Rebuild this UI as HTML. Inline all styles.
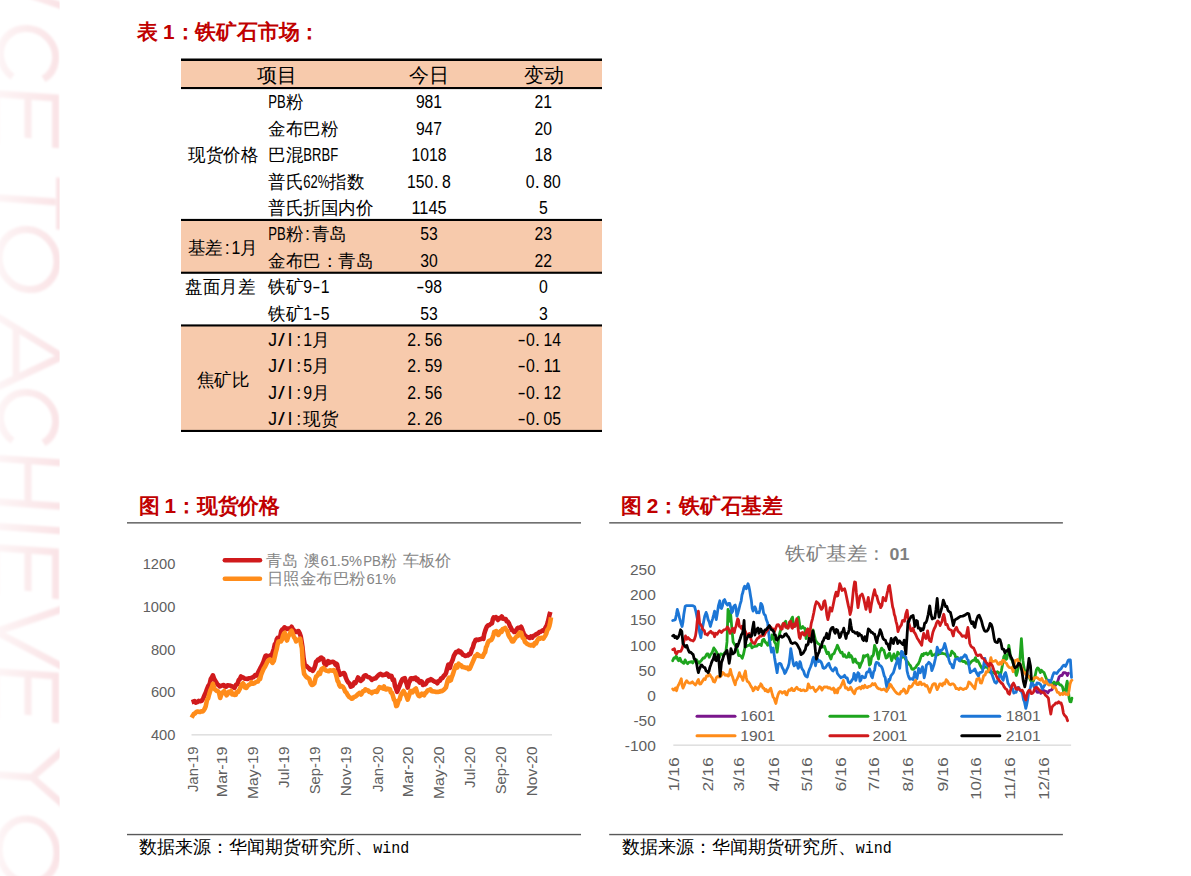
<!DOCTYPE html>
<html lang="zh"><head><meta charset="utf-8"><title>铁矿石市场</title>
<style>html,body{margin:0;padding:0;background:#fff;overflow:hidden}svg{display:block;font-family:'Liberation Sans',sans-serif}</style></head><body>
<svg width="1191" height="876" viewBox="0 0 1191 876">
<rect width="1191" height="876" fill="#fff"/>
<defs><filter id="wmb" x="-5%" y="-5%" width="110%" height="110%"><feGaussianBlur stdDeviation="0.9"/></filter><linearGradient id="wmg" gradientUnits="userSpaceOnUse" x1="0" y1="0" x2="60" y2="0"><stop offset="0" stop-color="#fdf4f5"/><stop offset="0.55" stop-color="#fbeaec"/><stop offset="1" stop-color="#fae3e6"/></linearGradient><clipPath id="wmc"><rect x="0" y="0" width="59.6" height="876"/></clipPath></defs><g clip-path="url(#wmc)"><path transform="matrix(1 0.07 0 1 0 -1.96)" d="M-4 -14L64 4M43.5 77.9A27.6 27 0 1 0 12.5 77.9M55.6 146V96H-4V146M28 96V138M59.6 175.5V227.5M55.6 200H-4M57 259.5a29 30 0 1 0 -58 0a29 30 0 1 0 58 0M-4 318L62 354L-4 390M16 329V379M43.5 441.9A27.6 27 0 1 0 12.5 441.9M64 460.5H-4M64 504H-4M28 460.5V504M64 528.5H-4M55.6 597V550H-4V597M28 550V591M64 606L-4 634L64 665M55.6 721V674H-4V721M28 674V715M64 747L32 777L64 803M32 777H-4M57 851a29 32 0 1 0 -58 0a29 32 0 1 0 58 0" fill="none" stroke="url(#wmg)" filter="url(#wmb)" stroke-width="7" stroke-linejoin="miter"/></g>
<text y="38.7" font-size="20.8" font-weight="bold" fill="#c00000"><tspan x="137.0" textLength="20.8" lengthAdjust="spacingAndGlyphs">表</tspan><tspan x="157.8"> </tspan><tspan x="163.0">1</tspan><tspan x="174.5" textLength="145.6" lengthAdjust="spacingAndGlyphs">：铁矿石市场：</tspan></text>
<text y="512.9" font-size="20.8" font-weight="bold" fill="#c00000"><tspan x="138.6" textLength="20.8" lengthAdjust="spacingAndGlyphs">图</tspan><tspan x="159.4"> </tspan><tspan x="164.6">1</tspan><tspan x="176.1" textLength="104.0" lengthAdjust="spacingAndGlyphs">：现货价格</tspan></text>
<text y="512.9" font-size="20.8" font-weight="bold" fill="#c00000"><tspan x="620.8" textLength="20.8" lengthAdjust="spacingAndGlyphs">图</tspan><tspan x="641.6"> </tspan><tspan x="646.8">2</tspan><tspan x="658.3" textLength="124.8" lengthAdjust="spacingAndGlyphs">：铁矿石基差</tspan></text>
<rect x="181" y="59.5" width="421" height="28.5" fill="#f7caac"/>
<rect x="181" y="220" width="421" height="52.5" fill="#f7caac"/>
<rect x="181" y="325.5" width="421" height="105.5" fill="#f7caac"/>
<rect x="181" y="58.5" width="421" height="2.5" fill="#000"/>
<rect x="181" y="87" width="421" height="2.1" fill="#000"/>
<rect x="181" y="218.9" width="421" height="2.1" fill="#000"/>
<rect x="181" y="271.7" width="421" height="2.1" fill="#000"/>
<rect x="181" y="324.4" width="421" height="2.1" fill="#000"/>
<rect x="181" y="429.9" width="421" height="2.1" fill="#000"/>
<text y="82.3" font-size="20" fill="#000"><tspan x="256.8" textLength="40.0" lengthAdjust="spacingAndGlyphs">项目</tspan></text>
<text y="82.3" font-size="20" fill="#000"><tspan x="408.7" textLength="40.0" lengthAdjust="spacingAndGlyphs">今日</tspan></text>
<text y="82.3" font-size="20" fill="#000"><tspan x="523.6" textLength="40.0" lengthAdjust="spacingAndGlyphs">变动</tspan></text>
<text y="108.4" font-size="17.5" fill="#000"><tspan x="268.2" font-size="18" textLength="17.5" lengthAdjust="spacingAndGlyphs">PB</tspan><tspan x="285.7" textLength="17.5" lengthAdjust="spacingAndGlyphs">粉</tspan></text>
<text y="108.4" font-size="17.5" fill="#000"><tspan x="415.9" font-size="18" textLength="26.2" lengthAdjust="spacingAndGlyphs">981</tspan></text>
<text y="108.4" font-size="17.5" fill="#000"><tspan x="534.5" font-size="18" textLength="17.5" lengthAdjust="spacingAndGlyphs">21</tspan></text>
<text y="134.8" font-size="17.5" fill="#000"><tspan x="268.2" textLength="70.0" lengthAdjust="spacingAndGlyphs">金布巴粉</tspan></text>
<text y="134.8" font-size="17.5" fill="#000"><tspan x="415.9" font-size="18" textLength="26.2" lengthAdjust="spacingAndGlyphs">947</tspan></text>
<text y="134.8" font-size="17.5" fill="#000"><tspan x="534.5" font-size="18" textLength="17.5" lengthAdjust="spacingAndGlyphs">20</tspan></text>
<text y="161.2" font-size="17.5" fill="#000"><tspan x="268.2" textLength="35.0" lengthAdjust="spacingAndGlyphs">巴混</tspan><tspan x="303.2" font-size="18" textLength="35.0" lengthAdjust="spacingAndGlyphs">BRBF</tspan></text>
<text y="161.2" font-size="17.5" fill="#000"><tspan x="411.5" font-size="18" textLength="35.0" lengthAdjust="spacingAndGlyphs">1018</tspan></text>
<text y="161.2" font-size="17.5" fill="#000"><tspan x="534.5" font-size="18" textLength="17.5" lengthAdjust="spacingAndGlyphs">18</tspan></text>
<text y="187.6" font-size="17.5" fill="#000"><tspan x="268.2" textLength="35.0" lengthAdjust="spacingAndGlyphs">普氏</tspan><tspan x="303.2" font-size="18" textLength="26.2" lengthAdjust="spacingAndGlyphs">62%</tspan><tspan x="329.4" textLength="35.0" lengthAdjust="spacingAndGlyphs">指数</tspan></text>
<text y="187.6" font-size="17.5" fill="#000"><tspan x="407.1" font-size="18" textLength="26.2" lengthAdjust="spacingAndGlyphs">150</tspan><tspan x="433.7" font-size="18">.</tspan><tspan x="442.1" font-size="18" textLength="8.8" lengthAdjust="spacingAndGlyphs">8</tspan></text>
<text y="187.6" font-size="17.5" fill="#000"><tspan x="525.8" font-size="18" textLength="8.8" lengthAdjust="spacingAndGlyphs">0</tspan><tspan x="534.8" font-size="18">.</tspan><tspan x="543.3" font-size="18" textLength="17.5" lengthAdjust="spacingAndGlyphs">80</tspan></text>
<text y="214.0" font-size="17.5" fill="#000"><tspan x="268.2" textLength="105.0" lengthAdjust="spacingAndGlyphs">普氏折国内价</tspan></text>
<text y="214.0" font-size="17.5" fill="#000"><tspan x="411.5" font-size="18" textLength="35.0" lengthAdjust="spacingAndGlyphs">1145</tspan></text>
<text y="214.0" font-size="17.5" fill="#000"><tspan x="538.9" font-size="18" textLength="8.8" lengthAdjust="spacingAndGlyphs">5</tspan></text>
<text y="240.4" font-size="17.5" fill="#000"><tspan x="268.2" font-size="18" textLength="17.5" lengthAdjust="spacingAndGlyphs">PB</tspan><tspan x="285.7" textLength="17.5" lengthAdjust="spacingAndGlyphs">粉</tspan><tspan x="305.1" font-size="18">:</tspan><tspan x="311.9" textLength="35.0" lengthAdjust="spacingAndGlyphs">青岛</tspan></text>
<text y="240.4" font-size="17.5" fill="#000"><tspan x="420.2" font-size="18" textLength="17.5" lengthAdjust="spacingAndGlyphs">53</tspan></text>
<text y="240.4" font-size="17.5" fill="#000"><tspan x="534.5" font-size="18" textLength="17.5" lengthAdjust="spacingAndGlyphs">23</tspan></text>
<text y="266.8" font-size="17.5" fill="#000"><tspan x="268.2" textLength="105.0" lengthAdjust="spacingAndGlyphs">金布巴：青岛</tspan></text>
<text y="266.8" font-size="17.5" fill="#000"><tspan x="420.2" font-size="18" textLength="17.5" lengthAdjust="spacingAndGlyphs">30</tspan></text>
<text y="266.8" font-size="17.5" fill="#000"><tspan x="534.5" font-size="18" textLength="17.5" lengthAdjust="spacingAndGlyphs">22</tspan></text>
<text y="293.2" font-size="17.5" fill="#000"><tspan x="268.2" textLength="35.0" lengthAdjust="spacingAndGlyphs">铁矿</tspan><tspan x="303.2" font-size="18" textLength="8.8" lengthAdjust="spacingAndGlyphs">9</tspan><tspan x="312.2" font-size="18" textLength="8.2" lengthAdjust="spacingAndGlyphs">-</tspan><tspan x="320.7" font-size="18" textLength="8.8" lengthAdjust="spacingAndGlyphs">1</tspan></text>
<text y="293.2" font-size="17.5" fill="#000"><tspan x="416.2" font-size="18" textLength="8.2" lengthAdjust="spacingAndGlyphs">-</tspan><tspan x="424.6" font-size="18" textLength="17.5" lengthAdjust="spacingAndGlyphs">98</tspan></text>
<text y="293.2" font-size="17.5" fill="#000"><tspan x="538.9" font-size="18" textLength="8.8" lengthAdjust="spacingAndGlyphs">0</tspan></text>
<text y="319.6" font-size="17.5" fill="#000"><tspan x="268.2" textLength="35.0" lengthAdjust="spacingAndGlyphs">铁矿</tspan><tspan x="303.2" font-size="18" textLength="8.8" lengthAdjust="spacingAndGlyphs">1</tspan><tspan x="312.2" font-size="18" textLength="8.2" lengthAdjust="spacingAndGlyphs">-</tspan><tspan x="320.7" font-size="18" textLength="8.8" lengthAdjust="spacingAndGlyphs">5</tspan></text>
<text y="319.6" font-size="17.5" fill="#000"><tspan x="420.2" font-size="18" textLength="17.5" lengthAdjust="spacingAndGlyphs">53</tspan></text>
<text y="319.6" font-size="17.5" fill="#000"><tspan x="538.9" font-size="18" textLength="8.8" lengthAdjust="spacingAndGlyphs">3</tspan></text>
<text y="346.0" font-size="17.5" fill="#000"><tspan x="268.2" font-size="18" textLength="8.8" lengthAdjust="spacingAndGlyphs">J</tspan><tspan x="277.9" font-size="18" textLength="6.8" lengthAdjust="spacingAndGlyphs">/</tspan><tspan x="287.6" font-size="18">I</tspan><tspan x="296.3" font-size="18">:</tspan><tspan x="303.2" font-size="18" textLength="8.8" lengthAdjust="spacingAndGlyphs">1</tspan><tspan x="311.9" textLength="17.5" lengthAdjust="spacingAndGlyphs">月</tspan></text>
<text y="346.0" font-size="17.5" fill="#000"><tspan x="407.2" font-size="18" textLength="8.8" lengthAdjust="spacingAndGlyphs">2</tspan><tspan x="416.2" font-size="18">.</tspan><tspan x="424.7" font-size="18" textLength="17.5" lengthAdjust="spacingAndGlyphs">56</tspan></text>
<text y="346.0" font-size="17.5" fill="#000"><tspan x="517.4" font-size="18" textLength="8.2" lengthAdjust="spacingAndGlyphs">-</tspan><tspan x="525.9" font-size="18" textLength="8.8" lengthAdjust="spacingAndGlyphs">0</tspan><tspan x="534.9" font-size="18">.</tspan><tspan x="543.4" font-size="18" textLength="17.5" lengthAdjust="spacingAndGlyphs">14</tspan></text>
<text y="372.4" font-size="17.5" fill="#000"><tspan x="268.2" font-size="18" textLength="8.8" lengthAdjust="spacingAndGlyphs">J</tspan><tspan x="277.9" font-size="18" textLength="6.8" lengthAdjust="spacingAndGlyphs">/</tspan><tspan x="287.6" font-size="18">I</tspan><tspan x="296.3" font-size="18">:</tspan><tspan x="303.2" font-size="18" textLength="8.8" lengthAdjust="spacingAndGlyphs">5</tspan><tspan x="311.9" textLength="17.5" lengthAdjust="spacingAndGlyphs">月</tspan></text>
<text y="372.4" font-size="17.5" fill="#000"><tspan x="407.2" font-size="18" textLength="8.8" lengthAdjust="spacingAndGlyphs">2</tspan><tspan x="416.2" font-size="18">.</tspan><tspan x="424.7" font-size="18" textLength="17.5" lengthAdjust="spacingAndGlyphs">59</tspan></text>
<text y="372.4" font-size="17.5" fill="#000"><tspan x="517.4" font-size="18" textLength="8.2" lengthAdjust="spacingAndGlyphs">-</tspan><tspan x="525.9" font-size="18" textLength="8.8" lengthAdjust="spacingAndGlyphs">0</tspan><tspan x="534.9" font-size="18">.</tspan><tspan x="543.4" font-size="18" textLength="17.5" lengthAdjust="spacingAndGlyphs">11</tspan></text>
<text y="398.8" font-size="17.5" fill="#000"><tspan x="268.2" font-size="18" textLength="8.8" lengthAdjust="spacingAndGlyphs">J</tspan><tspan x="277.9" font-size="18" textLength="6.8" lengthAdjust="spacingAndGlyphs">/</tspan><tspan x="287.6" font-size="18">I</tspan><tspan x="296.3" font-size="18">:</tspan><tspan x="303.2" font-size="18" textLength="8.8" lengthAdjust="spacingAndGlyphs">9</tspan><tspan x="311.9" textLength="17.5" lengthAdjust="spacingAndGlyphs">月</tspan></text>
<text y="398.8" font-size="17.5" fill="#000"><tspan x="407.2" font-size="18" textLength="8.8" lengthAdjust="spacingAndGlyphs">2</tspan><tspan x="416.2" font-size="18">.</tspan><tspan x="424.7" font-size="18" textLength="17.5" lengthAdjust="spacingAndGlyphs">56</tspan></text>
<text y="398.8" font-size="17.5" fill="#000"><tspan x="517.4" font-size="18" textLength="8.2" lengthAdjust="spacingAndGlyphs">-</tspan><tspan x="525.9" font-size="18" textLength="8.8" lengthAdjust="spacingAndGlyphs">0</tspan><tspan x="534.9" font-size="18">.</tspan><tspan x="543.4" font-size="18" textLength="17.5" lengthAdjust="spacingAndGlyphs">12</tspan></text>
<text y="425.2" font-size="17.5" fill="#000"><tspan x="268.2" font-size="18" textLength="8.8" lengthAdjust="spacingAndGlyphs">J</tspan><tspan x="277.9" font-size="18" textLength="6.8" lengthAdjust="spacingAndGlyphs">/</tspan><tspan x="287.6" font-size="18">I</tspan><tspan x="296.3" font-size="18">:</tspan><tspan x="303.2" textLength="35.0" lengthAdjust="spacingAndGlyphs">现货</tspan></text>
<text y="425.2" font-size="17.5" fill="#000"><tspan x="407.2" font-size="18" textLength="8.8" lengthAdjust="spacingAndGlyphs">2</tspan><tspan x="416.2" font-size="18">.</tspan><tspan x="424.7" font-size="18" textLength="17.5" lengthAdjust="spacingAndGlyphs">26</tspan></text>
<text y="425.2" font-size="17.5" fill="#000"><tspan x="517.4" font-size="18" textLength="8.2" lengthAdjust="spacingAndGlyphs">-</tspan><tspan x="525.9" font-size="18" textLength="8.8" lengthAdjust="spacingAndGlyphs">0</tspan><tspan x="534.9" font-size="18">.</tspan><tspan x="543.4" font-size="18" textLength="17.5" lengthAdjust="spacingAndGlyphs">05</tspan></text>
<text y="161.2" font-size="17.5" fill="#000"><tspan x="188.4" textLength="70.0" lengthAdjust="spacingAndGlyphs">现货价格</tspan></text>
<text y="253.6" font-size="17.5" fill="#000"><tspan x="187.8" textLength="35.0" lengthAdjust="spacingAndGlyphs">基差</tspan><tspan x="224.7" font-size="18">:</tspan><tspan x="231.6" font-size="18" textLength="8.8" lengthAdjust="spacingAndGlyphs">1</tspan><tspan x="240.3" textLength="17.5" lengthAdjust="spacingAndGlyphs">月</tspan></text>
<text y="293.2" font-size="17.5" fill="#000"><tspan x="185.0" textLength="70.0" lengthAdjust="spacingAndGlyphs">盘面月差</tspan></text>
<text y="385.6" font-size="17.5" fill="#000"><tspan x="196.7" textLength="52.5" lengthAdjust="spacingAndGlyphs">焦矿比</tspan></text>
<rect x="127" y="522.15" width="454" height="1.4" fill="#595959"/>
<rect x="609.2" y="522.15" width="453.70000000000005" height="1.4" fill="#595959"/>
<rect x="127" y="833.8499999999999" width="454" height="1.4" fill="#595959"/>
<rect x="609.2" y="833.8499999999999" width="453.70000000000005" height="1.4" fill="#595959"/>
<text y="853.2" font-size="18" fill="#000" font-family="'Liberation Mono','Liberation Sans',sans-serif"><tspan x="139.2" textLength="234.0" lengthAdjust="spacingAndGlyphs">数据来源：华闻期货研究所、</tspan><tspan x="373.2" font-size="16" textLength="36.0" lengthAdjust="spacingAndGlyphs">wind</tspan></text>
<text y="853.2" font-size="18" fill="#000" font-family="'Liberation Mono','Liberation Sans',sans-serif"><tspan x="621.7" textLength="234.0" lengthAdjust="spacingAndGlyphs">数据来源：华闻期货研究所、</tspan><tspan x="855.7" font-size="16" textLength="36.0" lengthAdjust="spacingAndGlyphs">wind</tspan></text>
<rect x="191.5" y="734.2" width="360.5" height="1.3" fill="#d9d9d9"/>
<text x="142.7" y="569.0" font-size="14.5" fill="#606060" textLength="32.6" lengthAdjust="spacingAndGlyphs">1200</text>
<text x="142.7" y="611.8" font-size="14.5" fill="#606060" textLength="32.6" lengthAdjust="spacingAndGlyphs">1000</text>
<text x="150.9" y="654.5" font-size="14.5" fill="#606060" textLength="24.5" lengthAdjust="spacingAndGlyphs">800</text>
<text x="150.9" y="697.2" font-size="14.5" fill="#606060" textLength="24.5" lengthAdjust="spacingAndGlyphs">600</text>
<text x="150.9" y="740.0" font-size="14.5" fill="#606060" textLength="24.5" lengthAdjust="spacingAndGlyphs">400</text>
<text transform="translate(197.6 792.1) rotate(-90)" x="0" y="0" font-size="14.5" fill="#606060" textLength="45.6" lengthAdjust="spacingAndGlyphs">Jan-19</text>
<text transform="translate(227.0 797.2) rotate(-90)" x="0" y="0" font-size="14.5" fill="#606060" textLength="50.7" lengthAdjust="spacingAndGlyphs">Mar-19</text>
<text transform="translate(258.1 799.1) rotate(-90)" x="0" y="0" font-size="14.5" fill="#606060" textLength="52.6" lengthAdjust="spacingAndGlyphs">May-19</text>
<text transform="translate(289.1 787.9) rotate(-90)" x="0" y="0" font-size="14.5" fill="#606060" textLength="41.4" lengthAdjust="spacingAndGlyphs">Jul-19</text>
<text transform="translate(320.2 794.3) rotate(-90)" x="0" y="0" font-size="14.5" fill="#606060" textLength="47.8" lengthAdjust="spacingAndGlyphs">Sep-19</text>
<text transform="translate(351.3 796.3) rotate(-90)" x="0" y="0" font-size="14.5" fill="#606060" textLength="49.8" lengthAdjust="spacingAndGlyphs">Nov-19</text>
<text transform="translate(382.6 792.1) rotate(-90)" x="0" y="0" font-size="14.5" fill="#606060" textLength="45.6" lengthAdjust="spacingAndGlyphs">Jan-20</text>
<text transform="translate(412.9 797.2) rotate(-90)" x="0" y="0" font-size="14.5" fill="#606060" textLength="50.7" lengthAdjust="spacingAndGlyphs">Mar-20</text>
<text transform="translate(443.9 799.1) rotate(-90)" x="0" y="0" font-size="14.5" fill="#606060" textLength="52.6" lengthAdjust="spacingAndGlyphs">May-20</text>
<text transform="translate(475.0 787.9) rotate(-90)" x="0" y="0" font-size="14.5" fill="#606060" textLength="41.4" lengthAdjust="spacingAndGlyphs">Jul-20</text>
<text transform="translate(506.1 794.3) rotate(-90)" x="0" y="0" font-size="14.5" fill="#606060" textLength="47.8" lengthAdjust="spacingAndGlyphs">Sep-20</text>
<text transform="translate(537.1 796.3) rotate(-90)" x="0" y="0" font-size="14.5" fill="#606060" textLength="49.8" lengthAdjust="spacingAndGlyphs">Nov-20</text>
<path d="M191.6 702.2 L193.1 701.7 L194.6 701.0 L195.8 702.7 L197.1 702.2 L198.6 700.9 L200.2 701.3 L201.6 700.9 L203.1 698.7 L204.4 695.5 L205.7 692.7 L207.0 689.1 L208.3 685.9 L209.6 684.2 L210.8 679.0 L211.9 677.3 L212.9 675.3 L214.2 679.0 L215.2 680.7 L216.3 682.5 L217.4 684.4 L218.5 685.0 L219.8 686.5 L221.1 685.9 L222.4 685.4 L223.7 685.0 L224.9 686.4 L226.2 686.7 L227.5 685.2 L228.8 685.5 L230.1 685.5 L231.4 686.2 L232.9 686.7 L234.5 687.9 L235.9 684.9 L237.4 684.2 L238.7 680.2 L239.9 679.0 L240.9 676.5 L242.0 677.0 L243.3 677.6 L244.7 678.7 L246.1 678.7 L247.6 679.0 L248.9 678.3 L250.2 678.2 L251.9 677.7 L253.6 677.0 L255.1 675.1 L256.7 675.6 L257.9 673.0 L259.1 670.5 L260.6 667.7 L262.2 664.5 L263.5 661.7 L264.8 657.6 L265.6 655.8 L266.5 655.6 L267.8 656.7 L269.0 658.5 L270.3 655.4 L271.6 655.9 L272.7 652.0 L273.8 649.1 L274.9 644.1 L275.9 643.1 L276.8 639.2 L277.6 637.9 L278.9 638.2 L280.2 636.6 L281.3 631.0 L282.4 629.4 L283.4 629.1 L284.5 627.3 L285.8 628.4 L287.0 629.0 L288.3 628.5 L289.6 628.5 L290.6 628.1 L291.6 626.8 L292.8 629.0 L293.9 630.2 L295.1 632.0 L296.4 632.0 L297.4 631.3 L298.5 631.1 L299.6 633.1 L300.7 636.2 L301.5 640.8 L302.4 646.5 L303.6 658.5 L305.0 666.2 L306.3 665.8 L307.6 667.1 L308.9 668.3 L310.1 669.6 L311.4 669.5 L312.7 670.8 L314.0 669.0 L315.3 665.3 L316.1 661.5 L317.0 661.1 L318.0 659.7 L319.0 660.2 L320.0 658.5 L321.1 657.5 L322.1 658.2 L323.2 658.9 L324.3 663.3 L325.6 665.4 L326.8 664.0 L328.1 661.2 L329.4 662.8 L330.7 662.1 L332.0 661.9 L333.3 661.9 L334.6 662.8 L335.5 664.7 L336.3 663.6 L337.1 664.4 L338.0 668.8 L339.1 672.8 L340.2 674.8 L341.2 673.7 L342.3 673.9 L343.1 673.3 L344.0 673.0 L344.9 674.5 L345.7 677.3 L347.0 680.5 L348.3 682.5 L349.6 683.6 L350.8 686.7 L351.6 686.2 L352.5 685.9 L353.4 684.5 L354.2 682.5 L355.5 683.1 L356.8 680.4 L358.1 677.5 L359.4 679.0 L360.7 680.8 L362.0 679.9 L362.9 679.1 L363.7 676.5 L364.8 675.5 L365.9 675.3 L366.9 676.4 L367.9 677.0 L369.2 677.2 L370.5 678.2 L371.8 679.9 L373.1 678.7 L374.4 678.6 L375.7 678.2 L376.9 676.7 L378.2 675.6 L379.2 674.5 L380.3 673.9 L381.4 674.4 L382.5 675.3 L383.8 674.9 L385.1 674.8 L386.4 673.6 L387.6 673.9 L388.9 676.6 L390.2 675.6 L391.5 676.0 L392.8 679.9 L393.9 679.7 L395.0 685.9 L396.1 688.8 L397.1 691.9 L398.0 689.6 L398.8 687.6 L399.6 685.8 L400.5 683.3 L401.5 681.0 L402.5 679.0 L403.6 678.5 L404.8 678.2 L405.6 681.0 L406.5 683.3 L407.7 687.6 L409.0 682.5 L409.9 681.2 L410.8 678.2 L412.1 678.2 L413.3 679.0 L414.4 678.0 L415.5 677.7 L416.6 680.1 L417.6 679.0 L418.6 681.2 L419.7 682.5 L420.8 681.2 L421.9 681.6 L423.0 685.0 L424.1 684.2 L425.1 684.4 L426.2 683.3 L427.5 680.8 L428.6 680.1 L429.6 680.4 L430.9 679.1 L432.2 679.9 L433.4 681.0 L434.7 681.6 L436.0 681.7 L437.3 683.3 L438.6 681.1 L439.9 680.8 L441.1 678.3 L442.4 678.2 L443.7 676.0 L445.0 674.8 L446.1 672.8 L447.1 668.8 L448.4 664.5 L449.2 665.8 L450.0 667.9 L450.9 663.6 L451.7 661.9 L452.8 659.5 L453.8 655.9 L454.9 654.0 L456.0 652.0 L457.3 652.2 L458.6 650.8 L459.6 652.3 L460.6 651.6 L461.7 653.0 L462.8 654.7 L464.1 655.2 L465.4 655.9 L466.7 655.6 L468.0 655.4 L469.1 653.8 L470.2 654.2 L471.0 652.3 L471.9 649.1 L472.9 647.3 L474.0 643.1 L474.9 641.6 L475.7 639.7 L477.0 639.6 L478.3 640.0 L479.6 639.4 L480.8 639.3 L482.1 638.3 L483.4 638.8 L484.2 634.2 L485.1 631.1 L486.0 628.6 L486.8 626.8 L488.1 625.2 L489.4 625.1 L490.7 623.9 L492.0 623.4 L492.9 619.0 L493.7 617.4 L494.8 617.6 L495.9 617.1 L496.9 618.6 L497.9 620.0 L499.2 618.1 L500.5 618.3 L501.8 616.5 L503.1 618.8 L504.4 618.9 L505.7 619.1 L506.8 621.4 L507.9 621.7 L508.9 623.2 L509.9 626.0 L510.9 627.7 L512.0 630.2 L513.1 630.6 L514.2 632.0 L515.3 631.7 L516.4 630.2 L517.5 628.1 L518.5 627.7 L519.8 628.1 L521.1 626.8 L522.0 628.7 L522.8 631.1 L523.9 634.1 L525.0 635.4 L526.0 636.3 L527.1 637.1 L528.4 637.3 L529.6 637.9 L530.9 636.4 L532.2 637.6 L533.5 635.9 L534.8 635.4 L536.0 634.3 L537.3 633.7 L538.3 633.4 L539.4 632.0 L540.5 631.8 L541.6 631.1 L542.7 630.3 L543.8 630.8 L544.8 629.2 L545.9 626.8 L546.9 625.1 L547.9 621.7 L549.3 615.7 L550.3 611.9" fill="none" stroke="#d01a1c" stroke-width="4.6" stroke-linejoin="round" stroke-linecap="butt"/>
<path d="M191.6 717.6 L192.6 715.9 L193.7 714.1 L195.0 713.4 L196.3 711.9 L197.6 711.5 L198.8 711.9 L200.1 711.9 L201.4 711.2 L202.7 711.4 L204.0 709.9 L204.8 708.5 L205.7 706.4 L207.1 699.6 L208.1 698.5 L209.1 694.5 L210.4 690.3 L211.7 687.6 L212.9 683.8 L214.2 688.5 L215.5 689.8 L216.8 691.0 L217.9 691.2 L219.0 692.7 L220.2 697.9 L221.3 694.6 L222.5 692.7 L223.3 691.7 L224.2 691.0 L225.4 693.3 L226.6 695.3 L227.7 694.0 L228.8 691.9 L229.9 691.9 L231.0 691.0 L232.1 694.3 L233.1 693.6 L234.4 695.0 L235.7 694.8 L236.9 691.9 L238.2 691.9 L239.5 689.5 L240.8 686.7 L241.9 684.4 L243.0 683.3 L244.1 685.0 L245.1 687.6 L246.3 687.9 L247.6 685.9 L248.9 684.8 L250.2 684.2 L251.5 682.2 L252.8 683.8 L254.1 683.4 L255.3 682.5 L256.6 681.8 L257.9 681.6 L259.0 679.2 L260.1 679.0 L261.1 674.8 L262.2 672.2 L263.5 669.1 L264.8 667.1 L266.1 664.5 L267.3 661.9 L268.6 660.2 L269.9 659.3 L271.2 661.1 L272.5 662.8 L273.8 661.0 L275.0 655.9 L275.9 651.8 L276.7 649.1 L277.6 644.5 L278.5 641.4 L279.8 641.2 L281.0 641.4 L282.1 639.4 L283.1 635.4 L284.0 633.5 L284.8 632.8 L285.9 637.9 L287.0 640.5 L288.3 636.3 L289.6 634.5 L290.6 631.7 L291.6 630.8 L292.8 633.9 L293.9 637.1 L295.0 638.5 L296.1 641.4 L297.1 640.0 L298.2 639.7 L299.2 639.7 L300.2 638.8 L301.0 644.2 L301.9 648.2 L302.9 665.3 L304.1 673.9 L305.4 675.7 L306.7 677.3 L308.0 677.9 L309.3 679.0 L310.6 683.2 L311.8 685.0 L313.1 684.5 L314.4 683.3 L315.2 679.7 L316.1 676.5 L317.4 675.8 L318.7 673.0 L320.0 673.9 L320.9 670.5 L321.7 668.8 L322.5 668.5 L323.4 667.9 L324.7 669.8 L326.0 670.5 L327.3 670.9 L328.6 671.3 L329.9 670.4 L331.1 670.5 L332.4 670.6 L333.7 670.1 L334.8 671.5 L335.8 673.9 L336.6 676.8 L337.5 680.8 L338.4 682.0 L339.2 685.0 L340.3 686.6 L341.4 685.9 L342.7 686.7 L344.0 688.5 L345.2 691.6 L346.5 692.7 L347.8 695.2 L349.1 697.0 L350.4 697.6 L351.7 698.7 L352.8 698.5 L353.9 697.0 L354.9 696.8 L356.0 696.2 L357.2 695.0 L358.5 693.6 L359.8 692.8 L361.1 694.5 L362.1 692.8 L363.2 691.0 L364.3 691.0 L365.4 689.3 L366.6 690.2 L367.9 690.2 L369.2 691.9 L370.5 691.9 L371.8 693.2 L373.1 691.9 L374.4 691.8 L375.7 691.0 L376.9 691.9 L378.2 689.3 L379.5 687.1 L380.8 687.6 L381.9 687.8 L383.0 688.5 L384.1 686.5 L385.1 689.0 L386.4 689.5 L387.6 688.5 L388.8 689.0 L389.9 689.3 L390.9 692.5 L391.9 692.7 L392.9 695.8 L394.0 699.6 L395.1 701.0 L396.2 706.1 L397.0 705.7 L397.9 703.0 L398.8 700.1 L399.6 699.6 L400.7 695.5 L401.8 693.6 L402.7 692.1 L403.6 691.0 L404.6 693.3 L405.6 694.5 L406.6 696.6 L407.7 699.6 L408.5 697.2 L409.4 694.5 L410.5 691.1 L411.6 691.0 L412.7 692.2 L413.8 690.2 L414.9 689.3 L415.9 688.5 L416.9 691.6 L417.9 694.5 L418.8 695.9 L419.7 696.2 L420.8 695.1 L421.9 693.6 L423.0 694.6 L424.1 695.3 L425.1 693.2 L426.2 692.7 L427.0 691.3 L427.9 690.2 L429.1 690.1 L430.4 689.3 L431.7 691.3 L433.0 691.4 L434.3 691.5 L435.6 691.9 L436.9 692.0 L438.2 691.9 L439.4 691.8 L440.7 691.0 L442.0 691.1 L443.3 690.2 L444.6 689.1 L445.9 687.6 L446.8 684.0 L447.6 680.8 L448.5 678.8 L449.3 677.7 L450.0 680.8 L450.9 680.1 L451.7 677.3 L452.8 674.6 L453.8 671.3 L454.9 668.3 L456.0 665.3 L457.3 667.6 L458.6 663.6 L459.9 665.2 L461.1 665.3 L462.4 667.0 L463.7 667.1 L465.0 667.6 L466.3 667.9 L467.4 667.6 L468.5 669.1 L469.7 668.7 L470.9 666.2 L472.0 663.6 L473.1 661.1 L474.2 658.5 L475.3 655.9 L476.4 656.0 L477.4 654.2 L478.7 656.0 L480.0 655.9 L481.2 656.6 L482.5 656.8 L483.4 655.1 L484.2 653.4 L485.1 652.3 L486.0 647.4 L486.9 645.8 L487.7 643.1 L488.9 640.9 L490.2 640.5 L491.4 639.9 L492.5 637.9 L493.4 635.1 L494.2 632.0 L495.2 631.6 L496.2 631.1 L497.2 633.6 L498.3 634.9 L499.4 633.2 L500.5 631.1 L501.6 631.9 L502.7 629.0 L503.9 628.7 L505.1 628.0 L506.2 629.8 L507.4 631.1 L508.5 635.1 L509.6 637.1 L510.8 638.7 L512.0 641.4 L513.1 641.5 L514.2 639.7 L515.5 637.9 L516.8 636.2 L517.8 636.0 L518.8 633.7 L520.0 632.5 L521.1 632.8 L522.0 635.7 L522.8 637.9 L523.9 638.6 L525.0 642.2 L526.0 642.7 L527.1 643.9 L528.4 644.5 L529.6 645.1 L530.9 645.4 L532.2 644.8 L533.5 645.7 L534.8 643.1 L536.0 643.5 L537.3 640.5 L538.6 638.4 L539.9 638.8 L541.2 637.7 L542.5 637.9 L543.4 638.6 L544.2 637.1 L545.2 635.8 L546.2 633.7 L547.4 629.9 L548.5 628.5 L549.4 625.9 L550.2 622.5 L551.0 617.4" fill="none" stroke="#ff8c1a" stroke-width="4.6" stroke-linejoin="round" stroke-linecap="butt"/>
<path d="M224.8 560.3H260" stroke="#d01a1c" stroke-width="4.5" stroke-linecap="round"/>
<path d="M224.8 578.8H260" stroke="#ff8c1a" stroke-width="4.5" stroke-linecap="round"/>
<text y="566" font-size="16" fill="#858585" font-family="'Liberation Sans',sans-serif"><tspan x="265.6" textLength="32" lengthAdjust="spacingAndGlyphs">青岛</tspan><tspan x="297.6"> </tspan><tspan x="303.5" textLength="16" lengthAdjust="spacingAndGlyphs">澳</tspan><tspan x="320.6" font-family="'Liberation Sans',sans-serif" font-size="14.5" textLength="41.5" lengthAdjust="spacingAndGlyphs">61.5%</tspan><tspan x="363.2" font-family="'Liberation Sans',sans-serif" font-size="14.5" textLength="17.8" lengthAdjust="spacingAndGlyphs">PB</tspan><tspan x="381.2" textLength="16" lengthAdjust="spacingAndGlyphs">粉</tspan><tspan x="397.2"> </tspan><tspan x="402.6" textLength="49" lengthAdjust="spacingAndGlyphs">车板价</tspan></text>
<text y="584.1" font-size="16" fill="#858585" font-family="'Liberation Sans',sans-serif"><tspan x="267" textLength="98.6" lengthAdjust="spacingAndGlyphs">日照金布巴粉</tspan><tspan x="366.4" font-family="'Liberation Sans',sans-serif" font-size="14.5" textLength="29.6" lengthAdjust="spacingAndGlyphs">61%</tspan></text>
<rect x="673.3" y="744.5" width="397.8" height="1.3" fill="#d9d9d9"/>
<text x="630.0" y="575.2" font-size="15.2" fill="#606060" textLength="25.8" lengthAdjust="spacingAndGlyphs">250</text>
<text x="630.0" y="600.3" font-size="15.2" fill="#606060" textLength="25.8" lengthAdjust="spacingAndGlyphs">200</text>
<text x="630.0" y="625.4" font-size="15.2" fill="#606060" textLength="25.8" lengthAdjust="spacingAndGlyphs">150</text>
<text x="630.0" y="650.5" font-size="15.2" fill="#606060" textLength="25.8" lengthAdjust="spacingAndGlyphs">100</text>
<text x="638.6" y="675.7" font-size="15.2" fill="#606060" textLength="17.2" lengthAdjust="spacingAndGlyphs">50</text>
<text x="647.2" y="700.8" font-size="15.2" fill="#606060" textLength="8.6" lengthAdjust="spacingAndGlyphs">0</text>
<text x="633.4" y="725.9" font-size="15.2" fill="#606060" textLength="22.4" lengthAdjust="spacingAndGlyphs">-50</text>
<text x="624.8" y="751.0" font-size="15.2" fill="#606060" textLength="31.0" lengthAdjust="spacingAndGlyphs">-100</text>
<text transform="translate(678.6 791.4) rotate(-90)" x="0" y="0" font-size="15.2" fill="#606060" textLength="34.0" lengthAdjust="spacingAndGlyphs">1/16</text>
<text transform="translate(713.4 791.4) rotate(-90)" x="0" y="0" font-size="15.2" fill="#606060" textLength="34.0" lengthAdjust="spacingAndGlyphs">2/16</text>
<text transform="translate(744.0 791.4) rotate(-90)" x="0" y="0" font-size="15.2" fill="#606060" textLength="34.0" lengthAdjust="spacingAndGlyphs">3/16</text>
<text transform="translate(778.9 791.4) rotate(-90)" x="0" y="0" font-size="15.2" fill="#606060" textLength="34.0" lengthAdjust="spacingAndGlyphs">4/16</text>
<text transform="translate(812.0 791.4) rotate(-90)" x="0" y="0" font-size="15.2" fill="#606060" textLength="34.0" lengthAdjust="spacingAndGlyphs">5/16</text>
<text transform="translate(846.1 791.4) rotate(-90)" x="0" y="0" font-size="15.2" fill="#606060" textLength="34.0" lengthAdjust="spacingAndGlyphs">6/16</text>
<text transform="translate(878.8 791.4) rotate(-90)" x="0" y="0" font-size="15.2" fill="#606060" textLength="34.0" lengthAdjust="spacingAndGlyphs">7/16</text>
<text transform="translate(913.4 791.4) rotate(-90)" x="0" y="0" font-size="15.2" fill="#606060" textLength="34.0" lengthAdjust="spacingAndGlyphs">8/16</text>
<text transform="translate(947.7 791.4) rotate(-90)" x="0" y="0" font-size="15.2" fill="#606060" textLength="34.0" lengthAdjust="spacingAndGlyphs">9/16</text>
<text transform="translate(981.2 799.8) rotate(-90)" x="0" y="0" font-size="15.2" fill="#606060" textLength="42.4" lengthAdjust="spacingAndGlyphs">10/16</text>
<text transform="translate(1015.3 799.8) rotate(-90)" x="0" y="0" font-size="15.2" fill="#606060" textLength="42.4" lengthAdjust="spacingAndGlyphs">11/16</text>
<text transform="translate(1048.9 799.8) rotate(-90)" x="0" y="0" font-size="15.2" fill="#606060" textLength="42.4" lengthAdjust="spacingAndGlyphs">12/16</text>
<path d="M1036.1 690.5 L1037.0 692.1 L1038.0 692.4 L1039.4 690.6 L1040.8 693.4 L1042.2 690.9 L1043.7 690.5 L1045.1 691.1 L1046.5 691.5 L1047.9 692.9 L1049.3 690.5 L1050.7 690.1 L1052.1 689.6 L1053.5 685.5 L1055.0 685.8 L1056.4 683.9 L1057.8 681.1 L1059.2 676.7 L1060.6 675.5 L1062.0 675.6 L1063.4 672.6 L1064.8 672.6 L1066.3 673.2 L1067.4 675.5 L1068.5 673.2" fill="none" stroke="#7a168c" stroke-width="2.8" stroke-linejoin="round" stroke-linecap="round"/>
<path d="M672.7 660.7 L674.0 657.9 L675.3 658.1 L676.1 656.2 L677.0 657.3 L677.9 659.9 L678.7 660.7 L680.0 658.2 L681.3 661.6 L682.5 662.3 L683.8 663.3 L685.1 659.9 L686.4 662.4 L687.7 663.7 L689.0 662.1 L690.2 662.1 L691.5 661.6 L692.8 662.9 L694.1 660.7 L695.4 659.6 L696.7 659.9 L698.0 662.1 L699.2 663.3 L700.5 661.2 L701.8 659.9 L703.1 658.0 L704.4 658.1 L705.6 656.2 L706.9 653.9 L708.0 654.0 L709.2 657.3 L710.2 655.1 L711.2 653.9 L712.5 651.8 L713.8 647.9 L714.6 649.2 L715.5 650.4 L716.8 652.5 L718.1 655.6 L719.4 657.6 L720.6 653.9 L721.9 654.4 L723.2 654.7 L724.5 652.7 L725.8 652.2 L727.0 641.9 L728.0 609.4 L729.2 621.3 L730.4 611.1 L731.7 626.5 L733.1 641.9 L734.2 643.8 L735.2 645.3 L736.0 646.3 L736.9 648.7 L737.8 651.6 L738.6 655.6 L739.9 655.5 L741.2 656.4 L742.3 658.2 L743.4 654.7 L744.2 650.9 L745.1 647.0 L746.5 646.4 L748.0 645.3 L749.3 645.3 L750.6 643.6 L751.9 647.9 L753.1 647.0 L754.9 646.3 L756.6 646.2 L758.3 644.5 L760.0 644.4 L761.3 645.5 L762.6 640.2 L763.9 639.2 L765.1 641.9 L766.4 643.1 L767.7 645.3 L768.7 642.8 L769.7 638.5 L770.9 639.7 L772.0 635.0 L773.2 637.2 L774.5 641.9 L775.8 643.9 L777.1 652.2 L778.0 645.3 L778.8 636.7 L780.1 631.8 L781.4 628.2 L782.6 625.1 L783.9 623.1 L784.8 622.8 L785.7 621.3 L786.5 625.0 L787.4 628.2 L788.6 626.0 L789.9 623.1 L791.2 619.5 L792.5 617.1 L793.4 623.5 L794.2 626.5 L795.5 625.9 L796.8 621.3 L797.6 619.2 L798.5 617.1 L799.3 622.1 L800.1 628.2 L801.4 628.3 L802.7 626.5 L803.8 628.0 L804.9 628.2 L806.1 638.5 L807.0 632.4 L807.8 629.0 L808.6 633.2 L809.5 638.5 L810.4 637.3 L811.3 633.3 L812.1 631.5 L813.0 629.9 L814.2 634.6 L815.5 640.2 L816.8 642.2 L818.1 643.6 L819.4 644.4 L820.7 645.3 L822.0 646.1 L823.2 647.0 L824.5 646.2 L825.8 650.4 L827.1 653.6 L828.4 652.2 L829.6 655.9 L830.9 659.0 L832.0 655.3 L833.0 653.9 L834.1 653.4 L835.2 650.4 L836.3 648.3 L837.4 645.3 L838.5 647.9 L839.5 650.4 L840.8 652.7 L842.1 652.2 L843.4 656.4 L844.6 654.7 L845.5 656.7 L846.3 657.3 L847.6 657.2 L848.9 653.0 L850.0 657.1 L851.1 655.6 L852.2 657.7 L853.2 662.4 L854.2 660.0 L855.2 659.0 L856.4 662.2 L857.5 663.3 L858.6 663.2 L859.7 667.6 L860.7 664.7 L861.7 662.4 L862.6 660.7 L863.5 655.6 L864.5 657.0 L865.5 655.6 L866.6 655.9 L867.7 654.7 L868.5 657.4 L869.4 665.0 L870.5 663.8 L871.7 656.4 L872.5 656.3 L873.4 654.7 L874.6 645.3 L875.5 648.0 L876.3 648.7 L877.4 654.5 L878.5 659.0 L879.5 652.5 L880.6 650.4 L881.6 648.1 L882.6 649.6 L883.8 650.2 L884.9 653.9 L886.1 658.1 L887.4 657.3 L888.5 654.1 L889.5 653.0 L890.6 656.5 L891.7 660.7 L892.8 657.0 L893.9 653.9 L895.0 657.2 L896.0 659.0 L896.9 656.3 L897.7 652.2 L898.7 653.4 L899.7 653.9 L901.1 654.0 L902.5 657.3 L904.0 654.1 L905.4 659.0 L906.7 660.9 L908.0 662.4 L909.2 664.4 L910.5 665.8 L911.8 669.1 L913.1 669.3 L914.4 668.3 L915.7 667.6 L917.0 665.1 L918.2 664.1 L919.5 661.2 L920.8 657.3 L921.9 654.4 L923.0 655.6 L924.0 653.4 L925.1 653.9 L926.4 653.0 L927.6 654.7 L929.2 653.2 L930.7 651.0 L932.1 655.6 L933.5 654.8 L934.9 654.8 L936.3 652.9 L937.7 654.8 L939.1 653.8 L940.5 653.7 L942.0 652.9 L943.4 653.7 L944.8 653.8 L946.2 654.6 L947.6 656.6 L949.0 655.8 L950.4 655.7 L951.8 651.1 L953.3 652.9 L954.7 654.1 L956.1 658.5 L957.5 657.3 L958.9 659.5 L960.3 661.0 L961.7 660.4 L963.2 661.7 L964.6 661.3 L966.0 663.3 L967.4 662.3 L968.8 664.8 L970.2 663.2 L971.6 661.4 L973.0 660.4 L974.2 660.4 L975.5 657.6 L976.6 661.5 L977.7 660.4 L979.2 663.2 L980.6 666.1 L982.0 668.4 L983.4 667.9 L984.8 667.2 L986.2 667.0 L987.6 667.3 L989.0 671.7 L990.5 672.3 L991.9 672.6 L993.3 672.0 L994.7 673.6 L996.1 672.8 L997.5 671.7 L998.9 673.0 L1000.3 675.5 L1001.5 670.3 L1002.6 664.2 L1003.8 656.7 L1005.0 654.8 L1006.0 659.4 L1006.9 658.5 L1007.8 653.7 L1008.8 645.3 L1009.8 651.4 L1010.7 658.5 L1012.1 660.2 L1013.5 664.2 L1014.9 669.9 L1016.3 675.5 L1017.2 672.6 L1018.2 667.9 L1019.2 662.8 L1020.1 656.6 L1021.4 638.7 L1022.9 660.4 L1023.8 666.6 L1024.8 671.7 L1026.2 671.0 L1027.6 675.5 L1029.0 676.4 L1030.5 680.2 L1031.9 682.4 L1033.3 681.1 L1034.2 678.6 L1035.2 675.5 L1036.4 669.7 L1037.6 667.9 L1038.9 669.1 L1040.3 672.6 L1041.5 670.3 L1042.7 671.7 L1044.1 672.7 L1045.5 676.4 L1047.0 680.3 L1048.4 681.1 L1049.8 681.8 L1051.2 683.0 L1052.6 684.0 L1054.0 682.1 L1055.4 683.2 L1056.8 683.9 L1058.2 682.4 L1059.7 684.9 L1061.1 685.0 L1062.5 686.8 L1063.9 692.6 L1065.3 692.4 L1066.2 685.7 L1067.2 681.1 L1068.2 688.2 L1069.1 698.1 L1070.0 701.6 L1071.0 701.8 L1071.9 698.1" fill="none" stroke="#1ea51e" stroke-width="2.8" stroke-linejoin="round" stroke-linecap="round"/>
<path d="M672.7 620.5 L674.0 620.1 L675.3 619.6 L676.3 615.1 L677.3 609.4 L678.4 613.1 L679.5 617.9 L680.8 622.7 L682.1 626.5 L683.0 621.7 L683.8 614.5 L685.2 606.3 L686.6 605.6 L687.9 605.6 L689.3 605.6 L690.7 605.6 L692.0 605.6 L693.4 605.9 L694.6 606.6 L695.8 611.1 L697.1 617.6 L698.4 623.1 L699.6 632.4 L700.9 637.6 L701.8 630.9 L702.7 626.5 L703.7 621.4 L704.7 616.2 L706.1 612.4 L707.1 615.1 L708.1 619.6 L709.2 622.0 L710.4 626.5 L711.5 622.4 L712.6 618.8 L713.6 615.2 L714.6 611.1 L715.5 615.9 L716.3 619.6 L717.3 613.4 L718.4 605.9 L719.8 600.8 L720.6 607.6 L721.5 608.5 L722.5 605.8 L723.5 600.8 L724.6 599.6 L725.8 602.5 L726.6 604.1 L727.5 605.1 L728.6 603.4 L729.7 603.4 L730.7 607.4 L731.7 612.8 L732.6 611.5 L733.5 606.8 L734.4 605.7 L735.2 605.1 L736.0 608.1 L736.9 616.2 L737.9 613.2 L738.9 609.4 L740.0 604.7 L741.2 600.8 L742.0 595.0 L742.9 592.2 L743.8 588.1 L744.6 586.3 L745.5 586.7 L746.3 588.8 L747.1 586.2 L748.0 583.7 L748.9 586.5 L749.7 590.5 L750.5 595.7 L751.4 600.8 L752.2 608.3 L753.1 611.1 L754.0 607.9 L754.9 606.8 L755.8 608.8 L756.6 612.8 L757.9 612.5 L759.1 612.8 L760.0 609.5 L760.8 603.4 L761.7 604.2 L762.6 606.8 L763.5 612.5 L764.3 614.5 L765.3 615.3 L766.3 619.6 L767.7 623.1 L769.1 636.7 L770.3 645.3 L771.5 652.2 L772.4 648.7 L773.2 647.9 L774.5 657.3 L775.9 665.8 L777.1 672.7 L778.3 664.1 L779.1 663.6 L780.0 663.3 L781.1 664.3 L782.2 667.6 L783.5 669.7 L784.8 673.5 L785.8 672.0 L786.9 669.3 L788.0 667.2 L789.1 663.3 L790.0 656.1 L790.8 648.7 L791.6 653.5 L792.5 659.0 L793.4 664.1 L794.2 665.8 L795.3 664.6 L796.4 662.4 L797.3 665.1 L798.2 668.4 L799.0 666.6 L799.9 661.6 L800.7 663.4 L801.5 667.6 L802.5 669.5 L803.6 671.0 L804.6 674.4 L805.6 676.1 L806.5 676.5 L807.3 677.0 L808.4 672.4 L809.5 669.3 L810.6 666.8 L811.8 663.3 L812.6 659.6 L813.5 657.3 L814.5 660.8 L815.5 665.8 L816.5 661.1 L817.6 659.0 L818.7 661.5 L819.8 660.7 L820.9 661.7 L822.0 664.1 L823.0 667.8 L824.1 668.4 L825.4 667.6 L826.7 665.8 L827.8 664.2 L828.9 663.3 L829.9 666.7 L830.9 668.4 L832.0 670.1 L833.0 671.0 L834.1 669.5 L835.2 667.6 L836.3 668.8 L837.4 673.5 L838.5 674.9 L839.5 676.1 L840.8 677.7 L842.1 677.0 L843.4 676.8 L844.6 675.3 L845.9 677.8 L847.2 677.8 L848.5 682.3 L849.8 683.0 L851.0 681.8 L852.3 679.5 L853.1 679.1 L854.0 673.5 L854.9 675.0 L855.8 680.4 L856.9 676.2 L858.0 672.7 L859.0 673.7 L860.0 681.2 L861.0 679.7 L862.1 676.1 L863.2 677.1 L864.3 677.8 L865.4 677.4 L866.5 672.7 L867.5 671.8 L868.6 671.8 L869.5 668.8 L870.3 671.0 L871.3 676.1 L872.4 677.8 L873.5 672.2 L874.6 670.1 L875.5 664.6 L876.3 662.4 L877.4 662.6 L878.5 663.3 L879.5 665.4 L880.6 665.8 L881.6 666.9 L882.6 669.3 L883.5 672.9 L884.3 676.1 L885.2 677.5 L886.1 683.8 L887.4 689.8 L888.8 679.5 L889.8 680.0 L890.8 676.1 L892.1 674.3 L893.4 672.7 L894.5 669.0 L895.6 665.0 L896.7 662.3 L897.7 658.1 L898.7 663.5 L899.7 668.4 L900.6 660.1 L901.5 651.3 L902.6 652.2 L903.7 655.6 L904.8 656.3 L905.9 657.3 L907.1 671.0 L908.0 674.6 L908.8 677.0 L909.9 679.2 L911.0 678.7 L912.0 678.9 L913.1 679.5 L914.0 675.8 L914.8 671.8 L915.8 675.7 L916.9 678.7 L917.8 674.3 L918.6 668.4 L919.5 670.8 L920.3 672.7 L921.4 669.4 L922.5 666.7 L923.4 671.6 L924.2 677.8 L925.3 672.9 L926.4 665.0 L927.6 664.0 L928.8 662.3 L929.8 663.3 L930.7 664.2 L931.8 670.6 L932.9 667.9 L934.1 664.3 L935.4 658.5 L936.3 654.0 L937.2 647.2 L938.5 650.2 L939.7 652.9 L940.9 650.1 L942.0 650.0 L943.4 648.2 L944.8 643.5 L946.0 648.1 L947.2 652.9 L948.2 656.7 L949.1 660.4 L950.2 663.6 L951.4 664.2 L952.3 667.4 L953.3 667.9 L954.2 664.0 L955.1 659.5 L956.5 659.0 L958.0 658.5 L959.4 660.8 L960.8 657.6 L962.2 657.8 L963.6 656.6 L964.9 654.8 L966.1 655.7 L967.2 659.0 L968.3 660.4 L969.2 666.7 L970.2 672.6 L971.4 671.7 L972.5 670.8 L973.7 670.7 L974.9 668.9 L976.1 672.0 L977.4 674.5 L978.5 676.2 L979.6 672.6 L981.0 672.4 L982.4 671.7 L983.6 665.4 L984.9 658.5 L986.0 663.8 L987.2 666.1 L988.6 666.3 L990.0 667.9 L991.2 673.0 L992.4 675.5 L993.5 678.7 L994.7 682.1 L996.1 683.1 L997.5 681.1 L998.9 676.7 L1000.3 674.5 L1001.8 677.9 L1003.2 680.2 L1004.4 674.3 L1005.6 672.6 L1006.8 677.2 L1007.9 683.0 L1009.0 684.9 L1010.1 686.8 L1011.4 688.4 L1012.6 688.7 L1013.8 693.1 L1015.0 692.4 L1016.1 692.4 L1017.3 687.7 L1018.7 687.4 L1020.1 690.5 L1021.4 691.4 L1022.6 694.3 L1023.5 699.7 L1024.4 701.8 L1025.8 708.4 L1026.7 704.8 L1027.6 700.0 L1028.5 693.5 L1029.5 690.5 L1030.5 687.4 L1031.4 683.0 L1032.7 683.4 L1033.9 686.8 L1035.0 685.2 L1036.1 685.8 L1037.0 682.8 L1038.0 683.0 L1039.4 683.6 L1040.8 684.9 L1042.2 688.8 L1043.7 686.8 L1045.1 684.4 L1046.5 681.1 L1047.7 680.5 L1048.9 680.2 L1050.2 683.0 L1051.6 679.2 L1052.8 675.3 L1054.0 672.6 L1055.4 672.9 L1056.8 673.6 L1058.2 671.4 L1059.7 669.8 L1060.9 668.9 L1062.1 667.0 L1063.2 665.6 L1064.4 665.1 L1065.5 666.5 L1066.6 664.2 L1068.1 660.4 L1069.2 659.8 L1070.4 660.0 L1071.5 677.4" fill="none" stroke="#1c76d6" stroke-width="2.8" stroke-linejoin="round" stroke-linecap="round"/>
<path d="M672.7 688.9 L673.5 690.0 L674.4 689.8 L675.5 687.9 L676.6 690.7 L677.7 686.7 L678.7 684.7 L680.0 681.8 L681.3 678.7 L682.1 685.3 L683.0 688.1 L684.1 685.6 L685.2 683.0 L686.7 680.6 L688.1 682.6 L689.4 683.2 L690.7 683.0 L692.4 681.8 L694.1 683.8 L695.4 685.0 L696.7 683.0 L697.5 680.9 L698.4 679.5 L699.6 684.0 L700.9 683.8 L702.0 681.9 L703.0 680.4 L704.1 678.6 L705.2 679.5 L706.5 675.9 L707.8 676.1 L708.8 674.8 L709.8 674.4 L711.0 676.7 L712.1 677.8 L713.4 681.5 L714.6 682.1 L715.5 680.3 L716.3 677.8 L717.6 676.4 L718.9 677.0 L720.2 676.8 L721.5 675.3 L722.8 672.5 L724.0 673.5 L725.1 675.1 L726.3 675.3 L727.3 674.7 L728.3 676.1 L729.3 674.6 L730.4 669.3 L731.5 674.4 L732.6 677.0 L733.9 681.3 L735.2 684.7 L736.0 680.8 L736.9 679.5 L738.1 676.8 L739.4 672.7 L740.3 675.3 L741.2 677.0 L742.0 678.0 L742.9 680.4 L744.1 674.9 L745.4 671.0 L746.3 677.8 L747.2 681.2 L748.5 682.0 L749.7 683.8 L751.0 686.5 L752.3 688.1 L753.1 690.8 L754.0 689.8 L755.3 687.0 L756.6 688.1 L757.9 689.6 L759.1 686.4 L760.0 686.4 L760.8 683.8 L761.8 685.1 L762.9 688.1 L764.0 688.2 L765.1 690.7 L766.2 689.5 L767.3 691.5 L768.3 691.9 L769.4 689.8 L770.7 688.2 L772.0 693.2 L773.1 697.0 L774.2 698.4 L775.0 701.2 L775.9 703.5 L777.0 698.3 L778.0 694.9 L779.0 692.5 L780.0 691.5 L781.1 691.9 L782.2 693.2 L783.5 692.1 L784.8 691.5 L785.8 694.4 L786.9 694.9 L788.0 691.3 L789.1 689.8 L790.4 690.4 L791.7 688.1 L793.0 690.7 L794.2 690.7 L795.5 688.6 L796.8 687.2 L798.1 689.3 L799.4 689.8 L800.2 689.5 L801.0 690.7 L802.3 690.3 L803.6 689.8 L804.9 690.9 L806.1 690.7 L807.2 689.8 L808.3 683.8 L809.3 685.9 L810.4 688.1 L811.7 687.5 L813.0 687.2 L814.2 689.4 L815.5 691.5 L816.8 690.0 L818.1 688.9 L819.4 686.6 L820.7 687.2 L822.0 690.1 L823.2 688.1 L824.5 686.8 L825.8 687.2 L827.1 686.9 L828.4 688.1 L829.6 687.6 L830.9 688.9 L832.2 689.4 L833.5 688.1 L834.8 692.8 L836.1 689.8 L837.4 692.9 L838.6 688.1 L839.9 688.1 L841.2 685.5 L842.2 683.4 L843.3 680.4 L844.4 684.2 L845.5 688.1 L846.8 687.6 L848.1 689.8 L849.4 689.5 L850.6 687.2 L851.9 689.7 L853.2 692.4 L854.5 693.8 L855.8 689.8 L857.0 688.6 L858.3 688.1 L859.6 687.2 L860.9 688.9 L862.2 686.1 L863.5 688.1 L864.8 685.3 L866.0 687.2 L867.3 687.6 L868.6 686.4 L869.9 686.4 L871.2 685.5 L872.5 683.6 L873.7 684.7 L875.0 683.6 L876.3 686.4 L877.6 688.0 L878.9 688.9 L880.1 688.9 L881.4 689.8 L882.7 689.6 L884.0 688.9 L885.3 690.2 L886.6 691.5 L887.7 688.8 L888.8 688.1 L889.8 684.1 L890.8 684.7 L892.1 687.0 L893.4 688.9 L894.7 690.8 L896.0 692.4 L897.2 693.5 L898.5 694.1 L899.8 694.0 L901.1 691.5 L902.4 691.4 L903.7 688.9 L904.8 690.4 L905.9 693.2 L907.0 692.7 L908.0 690.7 L909.2 686.1 L910.5 687.2 L911.8 686.4 L913.1 683.8 L914.4 682.1 L915.7 680.4 L916.5 683.9 L917.4 684.7 L918.5 684.7 L919.6 682.1 L920.7 682.2 L921.7 684.7 L923.0 684.1 L924.2 683.8 L925.5 686.1 L926.8 685.5 L928.2 688.2 L929.7 692.4 L931.1 688.7 L932.5 684.9 L934.0 683.6 L935.4 683.9 L936.3 687.5 L937.2 689.6 L938.5 687.1 L939.7 683.9 L941.0 683.8 L942.3 685.8 L943.5 683.0 L944.8 683.9 L946.2 679.6 L947.6 681.1 L949.0 684.1 L950.4 684.9 L951.8 683.8 L953.3 683.9 L954.7 685.4 L956.1 688.7 L957.5 688.5 L958.9 689.6 L960.3 687.9 L961.7 688.7 L963.2 689.6 L964.6 688.7 L966.0 688.6 L967.4 686.8 L968.8 682.0 L970.2 683.0 L971.4 684.4 L972.5 685.8 L973.7 687.4 L974.9 688.7 L975.8 683.5 L976.8 679.2 L978.0 678.9 L979.2 678.3 L980.4 682.9 L981.5 683.0 L982.6 679.7 L983.8 675.5 L985.0 675.2 L986.2 671.7 L987.6 672.1 L989.0 669.8 L990.0 661.7 L990.9 657.6 L992.0 661.8 L993.2 661.3 L994.4 661.1 L995.6 660.4 L996.9 661.9 L998.1 664.2 L999.2 664.4 L1000.3 662.3 L1001.5 664.3 L1002.6 660.4 L1003.8 660.3 L1005.0 662.3 L1006.5 663.3 L1007.9 666.1 L1009.3 667.5 L1010.7 667.9 L1011.9 667.5 L1013.1 671.7 L1014.2 664.6 L1015.4 660.4 L1016.5 660.0 L1017.7 659.5 L1018.9 662.8 L1020.1 664.2 L1021.4 667.7 L1022.6 669.8 L1023.7 672.3 L1024.8 672.6 L1026.2 675.5 L1027.6 675.5 L1029.0 676.3 L1030.5 678.3 L1031.9 678.3 L1033.3 679.2 L1034.7 677.9 L1036.1 677.4 L1037.5 677.9 L1038.9 679.2 L1040.3 680.2 L1041.8 678.3 L1043.2 681.8 L1044.6 683.0 L1046.0 680.7 L1047.4 683.9 L1048.8 685.0 L1050.2 684.9 L1051.7 684.9 L1053.1 687.7 L1054.5 686.7 L1055.9 688.7 L1057.3 692.3 L1058.7 692.4 L1060.1 694.7 L1061.5 693.4 L1063.0 694.5 L1064.4 692.4 L1065.8 694.3 L1067.2 694.3 L1068.2 694.8 L1069.1 690.5 L1070.0 684.3 L1071.0 681.1 L1071.9 680.2" fill="none" stroke="#ff8c1a" stroke-width="2.8" stroke-linejoin="round" stroke-linecap="round"/>
<path d="M672.7 649.6 L673.5 649.3 L674.4 648.7 L675.5 652.9 L676.6 653.9 L678.0 651.4 L679.5 651.3 L680.8 651.3 L682.1 648.7 L683.0 645.0 L683.8 641.9 L684.6 638.6 L685.5 635.9 L686.8 639.2 L688.1 637.6 L689.4 639.1 L690.7 640.2 L692.0 640.5 L693.2 641.0 L694.4 639.4 L695.5 635.9 L696.4 630.1 L697.2 621.3 L698.4 611.1 L699.6 623.1 L700.7 624.8 L701.8 626.5 L702.6 629.0 L703.5 629.9 L704.4 630.8 L705.2 634.2 L706.3 634.1 L707.4 635.0 L708.5 633.2 L709.5 632.5 L710.8 631.2 L712.1 633.3 L713.4 633.0 L714.6 636.7 L715.9 633.3 L717.2 634.2 L718.3 632.2 L719.4 630.8 L720.5 631.4 L721.5 632.5 L722.8 630.8 L724.0 629.9 L725.1 629.5 L726.3 629.0 L727.3 626.9 L728.3 628.2 L729.1 630.6 L730.0 633.3 L731.3 631.1 L732.6 628.2 L733.5 631.3 L734.3 632.5 L735.1 628.4 L736.0 626.5 L736.9 622.1 L737.7 618.8 L738.5 620.0 L739.4 626.5 L740.3 626.7 L741.2 628.2 L742.0 626.2 L742.9 629.9 L744.1 628.9 L745.4 631.6 L746.7 634.7 L748.0 635.0 L749.3 633.4 L750.6 637.6 L751.5 640.8 L752.3 641.9 L753.6 643.2 L754.9 643.6 L756.1 640.6 L757.4 638.5 L758.7 637.8 L760.0 635.9 L761.3 636.1 L762.6 635.0 L763.9 635.5 L765.1 633.3 L766.4 631.3 L767.7 629.9 L768.5 627.4 L769.4 626.5 L770.7 627.0 L772.0 629.0 L773.2 629.0 L774.5 631.6 L775.8 628.1 L777.1 624.8 L778.4 624.6 L779.7 626.5 L781.0 629.1 L782.2 629.0 L783.0 623.6 L783.9 623.1 L784.8 623.8 L785.7 627.3 L787.0 626.5 L788.2 628.2 L789.5 622.0 L790.8 621.3 L791.6 627.2 L792.5 628.2 L793.6 624.2 L794.7 626.5 L795.8 622.3 L796.8 618.8 L797.6 624.5 L798.5 631.6 L799.3 637.2 L800.1 638.5 L801.4 632.9 L802.7 632.5 L804.0 635.1 L805.3 635.0 L806.5 631.0 L807.8 629.0 L808.6 632.6 L809.5 636.7 L810.4 629.0 L811.3 623.1 L812.5 618.8 L813.8 612.8 L815.1 605.8 L816.4 601.7 L817.7 602.8 L819.0 604.2 L820.2 607.3 L821.5 609.4 L822.6 607.9 L823.8 601.7 L824.8 600.7 L825.8 605.9 L826.8 614.7 L827.9 619.6 L829.0 614.9 L830.1 607.7 L831.0 608.8 L831.8 611.1 L832.9 606.3 L834.0 600.8 L835.0 595.9 L836.1 592.2 L837.0 596.1 L837.8 595.7 L838.8 590.0 L839.8 583.7 L841.0 586.8 L842.1 590.5 L843.4 589.4 L844.6 588.8 L845.5 592.0 L846.3 595.7 L847.3 600.6 L848.4 605.9 L849.2 609.1 L850.1 614.5 L851.2 610.3 L852.3 600.8 L853.5 588.9 L854.6 582.0 L855.5 582.4 L856.3 592.2 L857.1 599.8 L858.0 607.7 L859.0 601.5 L860.0 595.7 L861.0 595.3 L862.1 594.0 L863.0 596.3 L863.8 599.1 L864.9 604.1 L866.0 609.4 L867.1 603.8 L868.3 597.4 L869.3 605.9 L870.3 611.9 L871.3 604.9 L872.4 599.1 L873.5 593.9 L874.6 589.7 L875.7 595.2 L876.8 595.7 L877.8 600.2 L878.9 603.4 L879.8 604.3 L880.6 607.7 L881.9 605.6 L883.1 597.4 L884.4 600.1 L885.7 600.8 L886.8 594.9 L887.8 590.5 L888.6 586.4 L889.5 585.4 L890.8 594.0 L891.7 600.8 L892.6 606.8 L893.5 609.6 L894.3 614.5 L895.1 616.5 L896.0 621.3 L897.0 624.8 L898.0 631.6 L899.1 628.4 L900.3 626.5 L901.4 624.9 L902.5 620.5 L903.5 620.3 L904.5 621.3 L905.8 613.9 L907.1 610.2 L908.0 617.5 L908.8 623.1 L909.9 627.0 L911.0 630.8 L912.0 630.6 L913.1 628.2 L914.1 632.3 L915.1 633.3 L916.2 635.7 L917.4 638.5 L918.5 640.0 L919.6 641.9 L920.7 643.5 L921.7 645.3 L922.7 637.8 L923.7 633.3 L924.8 636.8 L925.9 638.5 L926.8 636.4 L927.6 630.8 L929.1 639.7 L930.0 640.9 L931.0 641.6 L932.0 636.6 L932.9 632.2 L934.1 629.0 L935.4 626.5 L936.6 622.7 L937.8 620.9 L939.0 622.2 L940.1 625.6 L941.0 623.2 L942.0 621.8 L942.9 617.0 L943.8 614.3 L944.8 618.9 L945.7 624.6 L947.1 624.4 L948.5 628.4 L950.0 629.8 L951.4 630.3 L952.3 633.2 L953.3 635.9 L954.2 631.1 L955.1 629.3 L956.5 627.3 L958.0 631.2 L959.4 632.6 L960.8 634.0 L962.2 636.4 L963.6 635.9 L964.9 635.9 L966.1 637.8 L967.0 632.0 L967.9 627.4 L968.8 634.7 L969.8 643.5 L971.0 646.2 L972.1 647.2 L973.5 647.9 L974.9 651.0 L976.3 654.6 L977.7 655.7 L979.2 654.9 L980.6 654.8 L982.0 657.9 L983.4 658.5 L984.8 660.4 L986.2 662.3 L987.6 663.9 L989.0 666.1 L990.1 663.2 L991.3 664.2 L992.5 666.1 L993.7 669.8 L995.0 672.3 L996.2 675.5 L997.4 678.2 L998.5 679.2 L999.9 681.4 L1001.3 683.0 L1002.7 684.0 L1004.1 686.8 L1005.5 688.7 L1006.9 689.6 L1008.1 693.2 L1009.4 694.3 L1010.5 690.4 L1011.6 686.8 L1012.5 684.3 L1013.5 683.0 L1014.6 685.3 L1015.8 688.7 L1017.0 689.3 L1018.2 687.7 L1019.7 689.8 L1021.1 690.5 L1022.2 690.2 L1023.3 692.4 L1024.5 696.7 L1025.8 700.0 L1026.7 695.6 L1027.6 692.4 L1028.8 690.5 L1030.1 690.5 L1031.2 693.6 L1032.4 693.4 L1033.5 692.1 L1034.6 688.7 L1035.8 687.3 L1037.1 687.7 L1038.5 689.2 L1039.9 690.5 L1041.3 692.1 L1042.7 692.4 L1044.1 693.0 L1045.5 695.2 L1047.0 696.5 L1048.4 698.1 L1049.6 707.0 L1050.8 714.1 L1051.9 707.5 L1053.1 705.6 L1054.5 704.6 L1055.9 702.8 L1057.3 703.3 L1058.7 701.8 L1059.8 703.0 L1061.0 702.8 L1062.2 706.2 L1063.4 713.1 L1064.3 715.0 L1065.3 716.0 L1066.4 717.2 L1067.6 720.7" fill="none" stroke="#d01a1c" stroke-width="2.8" stroke-linejoin="round" stroke-linecap="round"/>
<path d="M672.7 635.9 L673.8 635.2 L674.9 637.6 L676.0 636.6 L677.0 638.5 L678.2 637.2 L679.5 634.2 L680.6 629.8 L681.8 631.3 L683.0 643.6 L684.2 645.1 L685.5 647.0 L686.8 645.4 L688.1 649.6 L689.4 652.3 L690.7 652.2 L692.0 653.7 L693.2 654.7 L694.1 658.6 L695.0 659.0 L695.9 660.9 L696.7 664.1 L697.5 668.9 L698.4 672.7 L699.2 669.8 L700.1 667.6 L701.0 665.3 L701.8 665.0 L702.9 666.5 L704.0 667.6 L705.0 667.7 L706.1 671.0 L707.1 671.4 L708.1 672.7 L709.0 671.1 L709.8 667.6 L710.7 665.1 L711.6 662.4 L712.5 660.2 L713.3 659.0 L714.6 653.9 L715.5 660.1 L716.3 660.7 L717.3 657.8 L718.4 654.7 L719.2 664.6 L720.1 676.1 L721.5 662.4 L722.4 660.1 L723.2 657.3 L724.0 654.9 L724.9 653.9 L726.0 651.6 L727.0 650.4 L728.1 656.4 L729.2 663.3 L730.0 658.6 L730.9 648.7 L731.8 651.3 L732.6 653.9 L733.7 653.3 L734.8 652.2 L735.6 649.2 L736.5 644.4 L737.5 646.6 L738.6 643.6 L739.5 640.8 L740.3 638.5 L741.3 635.1 L742.4 633.3 L743.2 630.1 L744.1 620.5 L745.1 647.0 L746.0 640.9 L746.8 638.5 L747.8 636.3 L748.9 635.0 L749.8 636.7 L750.6 636.7 L751.5 636.3 L752.3 629.9 L753.7 622.2 L754.9 635.0 L756.0 630.8 L757.1 629.0 L758.0 628.0 L758.8 633.3 L759.8 632.0 L760.8 629.0 L761.8 630.9 L762.9 634.2 L764.0 631.5 L765.1 629.9 L766.2 629.6 L767.3 628.2 L768.3 627.2 L769.4 625.6 L770.5 628.1 L771.5 629.9 L772.6 630.2 L773.7 631.6 L774.5 635.0 L775.4 635.0 L776.2 639.6 L777.1 640.2 L778.0 638.9 L778.8 637.6 L779.9 636.2 L781.0 635.9 L782.0 637.3 L783.1 636.7 L784.0 636.1 L784.8 634.2 L786.1 633.7 L787.4 635.9 L788.5 637.0 L789.6 639.3 L791.0 642.8 L792.5 643.6 L793.8 643.0 L795.1 642.7 L796.4 643.6 L797.6 645.3 L798.8 647.7 L799.9 649.6 L801.0 654.7 L802.1 653.8 L803.2 653.0 L804.2 651.3 L805.3 649.6 L806.3 644.9 L807.3 645.3 L808.1 644.2 L809.0 638.5 L810.1 640.5 L811.3 641.9 L812.1 635.2 L813.0 630.8 L813.9 638.5 L814.7 643.6 L815.5 651.7 L816.4 659.0 L817.2 656.5 L818.1 653.9 L819.2 651.8 L820.3 647.0 L821.3 647.4 L822.4 641.9 L823.4 640.5 L824.4 637.6 L825.5 637.5 L826.7 633.3 L827.8 638.7 L828.9 638.5 L829.9 632.4 L830.9 629.0 L832.0 627.5 L833.0 627.3 L834.1 631.3 L835.2 633.3 L836.3 629.4 L837.4 629.9 L838.5 633.4 L839.5 637.6 L840.5 636.7 L841.6 632.5 L842.7 631.7 L843.8 628.2 L844.9 634.1 L846.0 638.5 L847.0 633.4 L848.1 633.3 L849.1 629.5 L850.1 619.6 L851.0 625.5 L851.8 629.9 L852.9 631.7 L854.0 631.6 L855.1 633.1 L856.3 633.3 L857.3 632.4 L858.3 635.9 L859.3 633.6 L860.4 635.0 L861.5 635.6 L862.6 639.3 L863.7 640.5 L864.8 636.7 L865.6 637.8 L866.5 641.0 L867.4 634.7 L868.3 629.0 L869.3 629.6 L870.3 630.8 L871.3 632.4 L872.4 632.5 L873.5 634.0 L874.6 634.2 L875.7 638.8 L876.8 642.7 L877.8 637.2 L878.9 635.0 L880.1 629.7 L881.4 632.5 L882.2 635.7 L883.1 638.5 L884.2 639.7 L885.4 640.2 L886.4 643.5 L887.4 643.6 L888.5 646.5 L889.5 649.6 L890.4 643.3 L891.2 638.5 L892.3 641.6 L893.4 643.6 L894.5 638.6 L895.6 637.6 L896.7 639.2 L897.7 643.6 L898.7 641.0 L899.7 641.0 L900.9 642.7 L902.0 643.6 L903.1 644.6 L904.2 640.2 L905.0 648.0 L905.9 653.9 L907.1 635.0 L908.0 621.3 L908.9 621.5 L909.7 618.8 L910.5 617.8 L911.4 616.2 L912.2 616.2 L913.1 615.4 L914.0 620.4 L914.8 626.5 L915.6 623.1 L916.5 620.5 L917.4 621.2 L918.2 628.2 L919.5 627.9 L920.8 630.8 L921.9 628.7 L923.0 629.9 L923.9 627.6 L924.7 623.1 L925.8 622.7 L926.8 620.5 L928.2 614.6 L929.7 605.8 L931.0 614.4 L932.2 619.0 L933.5 618.1 L934.8 618.0 L936.0 609.5 L937.2 598.3 L938.2 610.2 L939.1 617.1 L940.0 613.8 L941.0 610.5 L942.1 606.7 L943.3 600.1 L944.5 603.2 L945.7 606.7 L946.9 606.5 L948.0 610.5 L949.2 611.6 L950.4 612.4 L951.8 617.9 L953.3 625.6 L954.8 619.9 L956.4 619.1 L958.0 618.0 L960.4 616.4 L962.7 616.1 L965.0 615.1 L967.4 613.3 L968.8 613.8 L970.2 619.9 L971.6 623.6 L973.0 621.8 L974.0 626.4 L974.9 627.4 L975.8 622.7 L976.8 619.0 L978.0 615.9 L979.2 615.2 L980.4 618.1 L981.5 620.9 L982.9 626.5 L984.3 630.3 L985.5 631.3 L986.8 631.2 L987.9 629.8 L989.0 627.4 L990.1 623.4 L991.3 624.6 L992.2 626.9 L993.2 632.2 L994.2 638.6 L995.1 641.6 L996.3 642.4 L997.5 642.5 L998.8 639.1 L1000.0 639.7 L1001.1 643.3 L1002.2 649.1 L1003.6 649.1 L1005.0 652.9 L1006.2 650.6 L1007.5 651.0 L1008.8 649.1 L1009.8 654.4 L1010.7 656.6 L1011.7 658.2 L1012.6 660.4 L1013.8 665.6 L1015.0 667.9 L1016.1 667.2 L1017.3 666.1 L1018.7 663.2 L1020.1 664.2 L1021.0 667.1 L1022.0 671.7 L1023.3 681.1 L1024.8 686.8 L1026.3 679.2 L1027.6 669.8 L1029.0 658.5 L1030.5 666.1 L1031.4 679.2" fill="none" stroke="#000" stroke-width="2.8" stroke-linejoin="round" stroke-linecap="round"/>
<path d="M697 716.3h38" stroke="#7a168c" stroke-width="3" stroke-linecap="round"/>
<text x="740.3" y="721.1" font-size="15.2" fill="#606060" textLength="34.8" lengthAdjust="spacingAndGlyphs">1601</text>
<path d="M829.9 716.3h38" stroke="#1ea51e" stroke-width="3" stroke-linecap="round"/>
<text x="872.5" y="721.1" font-size="15.2" fill="#606060" textLength="34.8" lengthAdjust="spacingAndGlyphs">1701</text>
<path d="M961.8 716.3h38" stroke="#1c76d6" stroke-width="3" stroke-linecap="round"/>
<text x="1005.8" y="721.1" font-size="15.2" fill="#606060" textLength="34.8" lengthAdjust="spacingAndGlyphs">1801</text>
<path d="M697 735.8h38" stroke="#ff8c1a" stroke-width="3" stroke-linecap="round"/>
<text x="740.3" y="740.6" font-size="15.2" fill="#606060" textLength="34.8" lengthAdjust="spacingAndGlyphs">1901</text>
<path d="M829.9 735.8h38" stroke="#d01a1c" stroke-width="3" stroke-linecap="round"/>
<text x="872.5" y="740.6" font-size="15.2" fill="#606060" textLength="34.8" lengthAdjust="spacingAndGlyphs">2001</text>
<path d="M961.8 735.8h38" stroke="#000" stroke-width="3" stroke-linecap="round"/>
<text x="1005.8" y="740.6" font-size="15.2" fill="#606060" textLength="34.8" lengthAdjust="spacingAndGlyphs">2101</text>
<text y="559.6" font-size="18.7" fill="#7f7f7f" font-family="'Liberation Sans',sans-serif"><tspan x="785" textLength="82" lengthAdjust="spacingAndGlyphs">铁矿基差</tspan><tspan x="867" textLength="18.7" lengthAdjust="spacingAndGlyphs">：</tspan><tspan x="889.5" font-family="'Liberation Sans',sans-serif" font-weight="bold" font-size="17" textLength="19.8" lengthAdjust="spacingAndGlyphs">01</tspan></text>
</svg></body></html>
